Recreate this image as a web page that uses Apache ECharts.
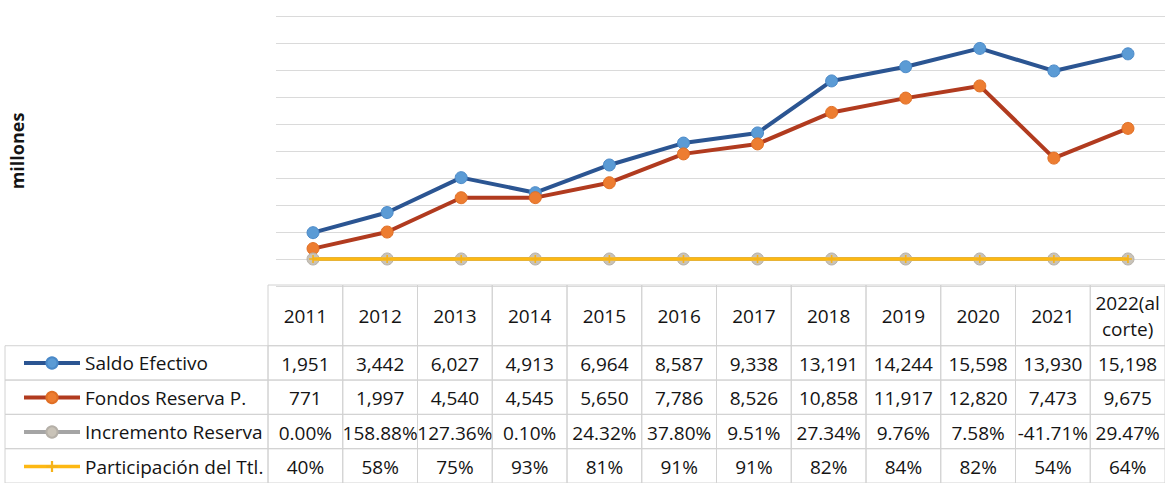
<!DOCTYPE html>
<html>
<head>
<meta charset="utf-8">
<script src="https://cdn.jsdelivr.net/npm/echarts@6/dist/echarts.min.js"></script>
<style>
html,body{margin:0;padding:0;background:#ffffff;}
#chart{width:1165px;height:483px;}
</style>
</head>
<body>
<div id="chart"></div>
<script>
// ---- data ----
const categories = ['2011','2012','2013','2014','2015','2016','2017','2018','2019','2020','2021','2022(al corte)'];
const headerLabels = ['2011','2012','2013','2014','2015','2016','2017','2018','2019','2020','2021','2022(al\ncorte)'];
const seriesNames = ['Saldo Efectivo','Fondos Reserva P.','Incremento Reserva','Participación del Ttl.'];
const saldoEfectivo = [1951, 3442, 6027, 4913, 6964, 8587, 9338, 13191, 14244, 15598, 13930, 15198];
const fondosReserva = [771, 1997, 4540, 4545, 5650, 7786, 8526, 10858, 11917, 12820, 7473, 9675];
const incrementoReserva = [0.0000, 1.5888, 1.2736, 0.0010, 0.2432, 0.3780, 0.0951, 0.2734, 0.0976, 0.0758, -0.4171, 0.2947];
const participacion = [0.40, 0.58, 0.75, 0.93, 0.81, 0.91, 0.91, 0.82, 0.84, 0.82, 0.54, 0.64];
const yAxisName = 'millones';

// ---- formatting ----
const fmtInt = v => v.toLocaleString('en-US');
const fmtPct2 = v => (v * 100).toFixed(2) + '%';
const fmtPct0 = v => Math.round(v * 100) + '%';
const rowTexts = [
  headerLabels,
  saldoEfectivo.map(fmtInt),
  fondosReserva.map(fmtInt),
  incrementoReserva.map(fmtPct2),
  participacion.map(fmtPct0)
];

const FONT = '"Open Sans", "Noto Sans", sans-serif';
const TEXT_COLOR = '#141414';
const BORDER = '#d2d2d2';
const HEADER_ROWS = 1.77; // header row height in data-row units
const LABEL_LEFT = 5;

const tableItems = [];
for (let r = 0; r < rowTexts.length; r++) {
  for (let c = 0; c < categories.length; c++) tableItems.push([c, r]);
}

const chart = echarts.init(document.getElementById('chart'), null, {renderer: 'svg'});

chart.setOption({
  backgroundColor: '#ffffff',
  animation: false,
  textStyle: {fontFamily: FONT},
  legend: {
    orient: 'vertical',
    left: 22,
    top: 353,
    padding: 0,
    itemWidth: 56,
    itemHeight: 14,
    itemGap: 14.5,
    selectedMode: false,
    data: seriesNames,
    lineStyle: {width: 'inherit'},
    textStyle: {fontFamily: FONT, fontSize: 19, color: TEXT_COLOR, lineHeight: 20}
  },
  grid: [
    {left: 268, right: -3, top: 16, bottom: 197, containLabel: false},
    {left: 268, right: -3, top: 285, bottom: 0, containLabel: false}
  ],
  xAxis: [
    {
      type: 'category', gridIndex: 0, data: categories, boundaryGap: true,
      axisLine: {show: false}, axisTick: {show: false}, axisLabel: {show: false}, splitLine: {show: false}
    },
    {
      type: 'category', gridIndex: 1, data: categories, boundaryGap: true,
      axisLine: {show: false}, axisTick: {show: false}, axisLabel: {show: false}, splitLine: {show: false}
    }
  ],
  yAxis: [
    {
      type: 'value', gridIndex: 0, min: -2000, max: 18000, interval: 2000,
      axisLine: {show: false}, axisTick: {show: false}, axisLabel: {show: false},
      splitLine: {show: true, lineStyle: {color: '#dadada', width: 1}},
      name: yAxisName, nameLocation: 'middle', nameRotate: 90, nameGap: 250,
      nameTextStyle: {fontFamily: FONT, fontSize: 18, fontWeight: 'bold', color: TEXT_COLOR}
    },
    {
      type: 'value', gridIndex: 1, min: 0, max: HEADER_ROWS + 4, inverse: true,
      axisLine: {show: false}, axisTick: {show: false}, axisLabel: {show: false}, splitLine: {show: false}
    }
  ],
  series: [
    {
      name: seriesNames[0], type: 'line', xAxisIndex: 0, yAxisIndex: 0, data: saldoEfectivo,
      symbol: 'circle', symbolSize: 12,
      lineStyle: {color: '#2b5592', width: 4},
      itemStyle: {color: '#5b9bd5', borderColor: '#4a89c8', borderWidth: 1},
      z: 3
    },
    {
      name: seriesNames[1], type: 'line', xAxisIndex: 0, yAxisIndex: 0, data: fondosReserva,
      symbol: 'circle', symbolSize: 12,
      lineStyle: {color: '#b13b1f', width: 4},
      itemStyle: {color: '#ed7d31', borderColor: '#e06f25', borderWidth: 1},
      z: 4
    },
    {
      name: seriesNames[2], type: 'line', xAxisIndex: 0, yAxisIndex: 0, data: incrementoReserva,
      symbol: 'circle', symbolSize: 12,
      lineStyle: {color: '#a5a5a5', width: 4},
      itemStyle: {color: '#c9c3b8', borderColor: '#b5b0a8', borderWidth: 1},
      z: 5
    },
    {
      name: seriesNames[3], type: 'line', xAxisIndex: 0, yAxisIndex: 0, data: participacion,
      symbol: 'path://M4,0h2v10h-2z M0,4h10v2h-10z', symbolSize: 8,
      lineStyle: {color: '#fdb813', width: 3.5},
      itemStyle: {color: '#f5b21a'},
      z: 6
    },
    {
      name: 'tabla', type: 'custom', xAxisIndex: 1, yAxisIndex: 1, clip: false,
      data: tableItems, silent: true, z: 2,
      renderItem: function (params, api) {
        const c = api.value(0), r = api.value(1);
        const top = r === 0 ? 0 : HEADER_ROWS + (r - 1);
        const bottom = r === 0 ? HEADER_ROWS : HEADER_ROWS + r;
        const bw = api.size([1, 0])[0];
        const pTop = api.coord([c, top]);
        const pBot = api.coord([c, bottom]);
        const x0 = pTop[0] - bw / 2;
        const children = [
          {type: 'rect', shape: {x: x0, y: pTop[1], width: bw, height: pBot[1] - pTop[1]},
           style: {fill: 'none', stroke: BORDER, lineWidth: 1}},
          {type: 'text', style: {
            text: rowTexts[r][c], x: pTop[0], y: (pTop[1] + pBot[1]) / 2 + 1,
            align: 'center', verticalAlign: 'middle',
            font: '19px ' + FONT, fill: TEXT_COLOR, lineHeight: 26
          }}
        ];
        if (c === 0 && r > 0) {
          const gx = params.coordSys.x;
          children.push({type: 'rect', shape: {x: LABEL_LEFT, y: pTop[1], width: gx - LABEL_LEFT, height: pBot[1] - pTop[1]},
            style: {fill: 'none', stroke: BORDER, lineWidth: 1}});
        }
        return {type: 'group', children: children};
      }
    }
  ]
});
</script>
</body>
</html>
